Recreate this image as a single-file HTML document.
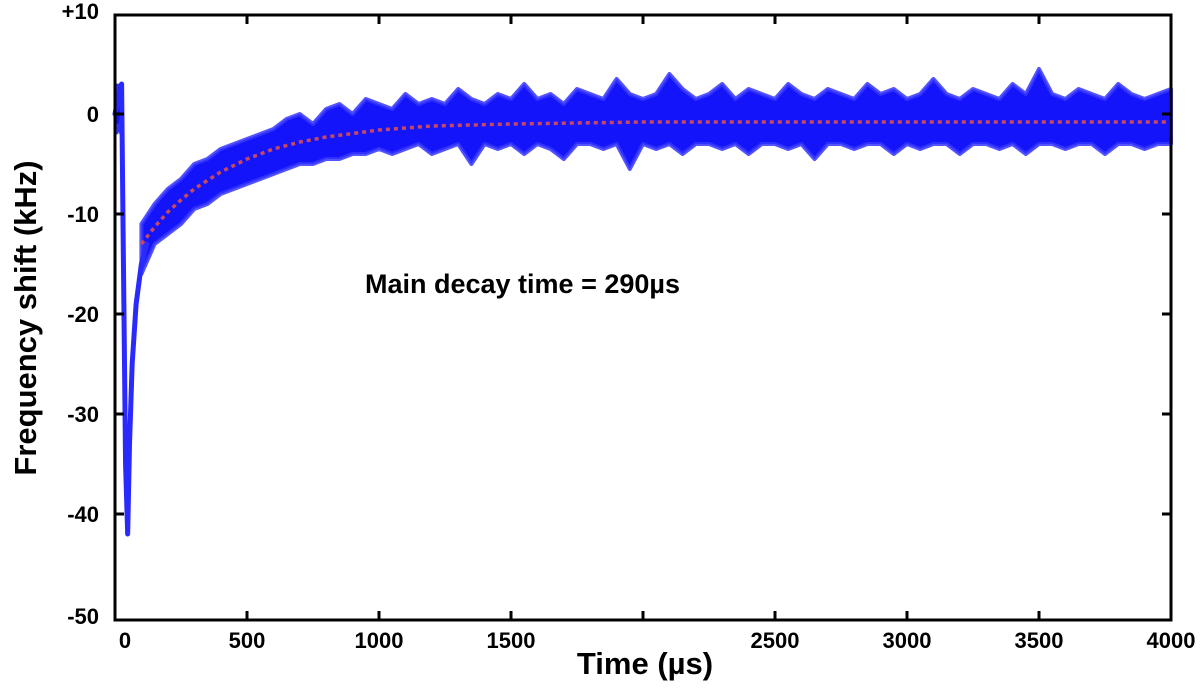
<!DOCTYPE html>
<html><head><meta charset="utf-8"><style>
body{margin:0;background:#fff}
svg text{font-family:"Liberation Sans",Arial,sans-serif;font-weight:bold;fill:#000}
</style></head><body>
<svg id="chart" width="1200" height="689" viewBox="0 0 1200 689" xmlns="http://www.w3.org/2000/svg">
<g id="plot"></g>
<g id="axes"></g>
<text x="0" y="0" font-size="31" text-anchor="middle" transform="translate(36,318) rotate(-90)">Frequency shift (kHz)</text>
<text x="645" y="674" font-size="31" text-anchor="middle">Time (µs)</text>
<text x="365" y="293" font-size="27">Main decay time = 290µs</text>
</svg>
<script>
const yTicks=[10,0,-10,-20,-30,-40,-50];
const yTickLabels=["+10","0","-10","-20","-30","-40","-50"];
const xTicks=[0,500,1000,1500,2000,2500,3000,3500,4000];
const xTickLabels=["0","500","1000","1500","","2500","3000","3500","4000"];
const bandStart=100, bandStep=50;
const bandUpper=[-11,-9,-7.5,-6.5,-5,-4.5,-3.5,-3,-2.5,-2,-1.5,-0.5,0,-1,0.5,1,0,1.5,1,0.5,2,1,1.5,1,2.5,1.5,1,2,1.5,3,1.5,2,1,2.5,2,1.5,3.5,2,1.5,2,4,2.5,1.5,2,3,1.5,2.5,2,1.5,3,2,1.5,2.5,2,1.5,3,2,2.5,1.5,2,3.5,2,1.5,2.5,2,1.5,3,2,4.5,2,1.5,2.5,2,1.5,3,2,1.5,2,2.5];
const bandLower=[-16,-13,-12,-11,-9.5,-9,-8,-7.5,-7,-6.5,-6,-5.5,-5,-5,-4.5,-4.5,-4,-4,-3.5,-4,-3.5,-3,-4,-3.5,-3,-5,-3,-3.5,-3,-4,-3,-3.5,-4.5,-3,-3,-3.5,-3,-5.5,-3,-3.5,-3,-4,-3,-3,-3.5,-3,-4,-3,-3,-3.5,-3,-4.5,-3,-3,-3.5,-3,-3,-4,-3,-3.5,-3,-3,-4,-3,-3,-3.5,-3,-4,-3,-3,-3.5,-3,-3,-4,-3,-3,-3.5,-3,-3];
const dipT=[0,15,25,30,40,48,55,65,80,100,120];
const dipV=[0,2,3,-10,-35,-42,-33,-25,-19,-15,-13];
const blockT=[0,5,10,15,20,25];
const blockHi=[2,3,2.5,3,2,3];
const blockLo=[-1,-2,-1,-1.5,-1,0];
const fitT=[100,150,200,250,300,400,500,600,700,800,1000,1200,1500,2000,3000,4000];
const fitV=[-13,-11.3,-9.8,-8.6,-7.5,-5.8,-4.5,-3.5,-2.8,-2.3,-1.6,-1.2,-1.0,-0.8,-0.8,-0.8];

const X0=115,X1=1171,YT=15,YB=620;
const xs=t=>X0+(t/4000)*(X1-X0);
const ys=v=>114-10*v;
const NS="http://www.w3.org/2000/svg";
const plot=document.getElementById('plot'),axes=document.getElementById('axes');
function mk(tag,attrs,parent){const e=document.createElementNS(NS,tag);for(const k in attrs)e.setAttribute(k,attrs[k]);parent.appendChild(e);return e;}

let pts=[];
bandUpper.forEach((v,i)=>pts.push(xs(bandStart+i*bandStep)+','+ys(v)));
for(let i=bandLower.length-1;i>=0;i--)pts.push(xs(bandStart+i*bandStep)+','+ys(bandLower[i]));
const band=mk('polygon',{points:pts.join(' '),fill:'#1414fa',stroke:'#3535ff','stroke-width':4,'stroke-linejoin':'round','stroke-opacity':0.85},plot);


let bp=[];
blockT.forEach((t,i)=>bp.push(xs(t)+','+ys(blockHi[i])));
for(let i=blockT.length-1;i>=0;i--)bp.push(xs(blockT[i])+','+ys(blockLo[i]));
const blk=mk('polygon',{points:bp.join(' '),fill:'#1414fa',stroke:'#3535ff','stroke-width':3},plot);


const dip=mk('polyline',{points:dipT.map((t,i)=>xs(t)+','+ys(dipV[i])).join(' '),fill:'none',stroke:'#2a2aff','stroke-width':5,'stroke-linejoin':'round','stroke-linecap':'round'},plot);


const fit=mk('polyline',{points:fitT.map((t,i)=>xs(t)+','+ys(fitV[i])).join(' '),fill:'none',stroke:'#c84860','stroke-width':3.5,'stroke-dasharray':'4 4'},plot);



const fr=mk('rect',{x:X0,y:YT,width:X1-X0,height:YB-YT,fill:'none',stroke:'#000','stroke-width':3},axes);


yTicks.forEach((v,i)=>{
  const y=ys(v);
  if(v!==10&&v!==-50){mk('line',{x1:X0,x2:X0+9,y1:y,y2:y,stroke:'#000','stroke-width':3},axes);mk('line',{x1:X1-9,x2:X1,y1:y,y2:y,stroke:'#000','stroke-width':3},axes);}
  const tx=mk('text',{x:99,y:(v===10?YT+4:v===-50?YB+4:y+8),'font-size':22,'text-anchor':'end'},axes);
  tx.textContent=yTickLabels[i];
  
  
});
xTicks.forEach((t,i)=>{
  const x=xs(t);
  if(t>0&&t<4000){mk('line',{x1:x,x2:x,y1:YB,y2:YB-9,stroke:'#000','stroke-width':3},axes);mk('line',{x1:x,x2:x,y1:YT,y2:YT+9,stroke:'#000','stroke-width':3},axes);}
  const tx=mk('text',{x:t===0?x+10:x,y:648,'font-size':22,'text-anchor':'middle'},axes);
  tx.textContent=xTickLabels[i];
  
  
});
</script>
</body></html>
